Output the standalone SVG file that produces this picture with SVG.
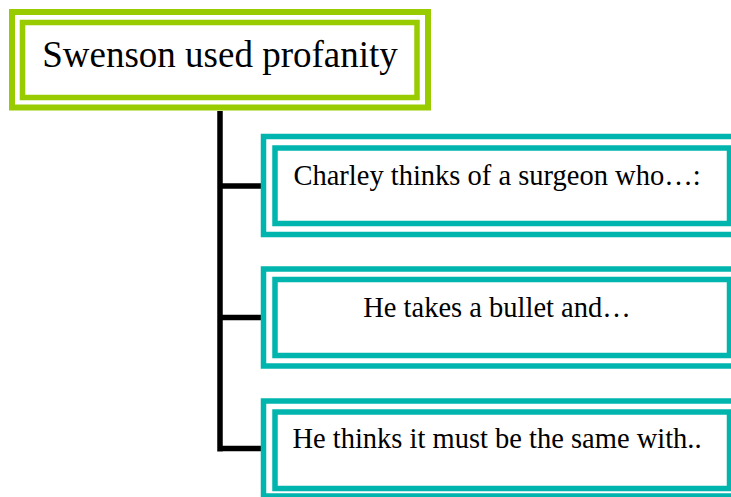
<svg xmlns="http://www.w3.org/2000/svg" width="731" height="497" viewBox="0 0 731 497">
<style>
.g{fill:none;stroke:#99CC00}
.t{fill:none;stroke:#00B5AD;stroke-width:5.5}
.c{fill:none;stroke:#000;stroke-width:5.5}
.tx{font-family:"Liberation Serif","Times New Roman",serif;fill:#000;text-anchor:middle}
</style>
<rect width="731" height="497" fill="#fff"/>
<g id="connectors">
<path class="c" d="M220 111V451.5M217.25 186H262M217.25 317.5H262M217.25 448.5H262"/>
</g>
<g id="root">
<rect class="g" x="12" y="12" width="416" height="95.5" stroke-width="6"/>
<rect class="g" x="22.5" y="22.5" width="394.5" height="75" stroke-width="5.5"/>
<text class="tx" x="220" y="67" font-size="37">Swenson used profanity</text>
</g>
<g id="child1">
<rect class="t" x="263.5" y="136.5" width="477.5" height="98"/>
<rect class="t" x="275" y="148" width="454.5" height="75.5"/>
<text class="tx" x="497" y="185" font-size="28.5">Charley thinks of a surgeon who…:</text>
</g>
<g id="child2">
<rect class="t" x="263.5" y="269" width="477.5" height="97"/>
<rect class="t" x="275" y="279.5" width="454.5" height="76"/>
<text class="tx" x="497" y="317" font-size="28.5">He takes a bullet and…</text>
</g>
<g id="child3">
<rect class="t" x="263.5" y="401" width="477.5" height="95"/>
<rect class="t" x="275" y="412" width="454.5" height="76.5"/>
<text class="tx" x="497" y="448" font-size="28.5">He thinks it must be the same with..</text>
</g>
</svg>
